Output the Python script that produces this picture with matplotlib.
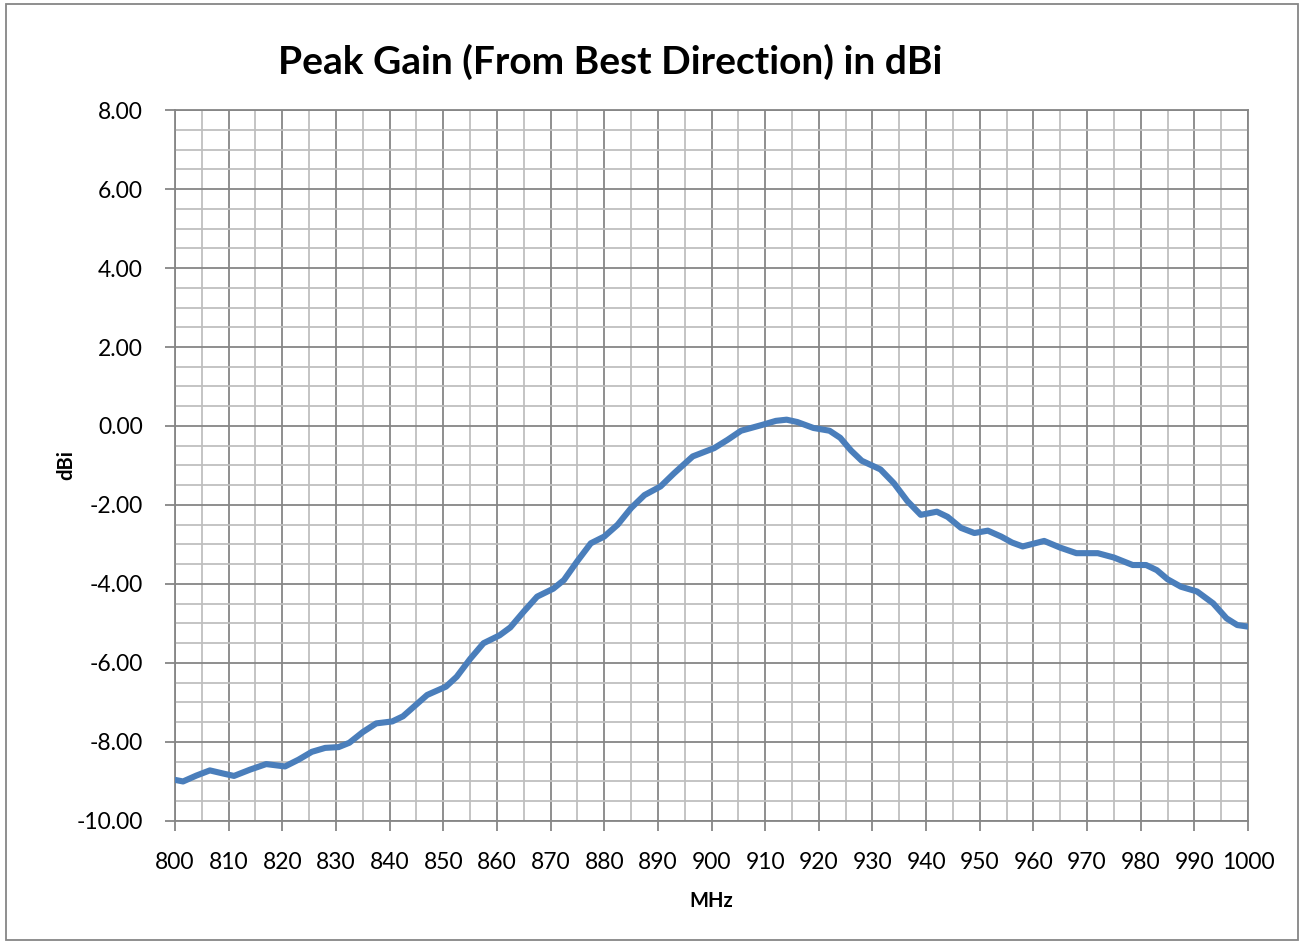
import matplotlib
matplotlib.use('Agg')
import matplotlib.pyplot as plt
from matplotlib.ticker import MultipleLocator, FormatStrFormatter
from matplotlib.patches import Rectangle

# data
freq_mhz = [800, 801.5, 804, 806.5, 809, 811, 814, 817, 820.5, 823, 825.5, 828,
            830.5, 832.5, 835, 837.5, 840.5, 842.5, 845, 847, 850.5, 852.5, 855,
            857.5, 860.5, 862.5, 865, 867.5, 870.5, 872.5, 875, 877.5, 880, 882.5,
            885, 887.5, 890.5, 893, 896.5, 900.5, 903, 905.5, 909.5, 912, 914, 916,
            919, 922, 924, 926, 928, 931.5, 934, 936.5, 939, 942, 944, 946.5, 949,
            951.5, 954, 956, 958, 962, 965, 968, 972, 975, 978.5, 981, 983, 985,
            987.5, 990.5, 993.5, 996, 998, 1000]
gain_dbi = [-8.96, -9.00, -8.85, -8.72, -8.80, -8.86, -8.70, -8.56, -8.62, -8.45,
            -8.25, -8.15, -8.13, -8.02, -7.75, -7.53, -7.48, -7.35, -7.05, -6.81,
            -6.60, -6.35, -5.90, -5.50, -5.30, -5.10, -4.70, -4.32, -4.12, -3.90,
            -3.42, -2.97, -2.80, -2.50, -2.08, -1.75, -1.53, -1.20, -0.77, -0.56,
            -0.35, -0.12, 0.03, 0.13, 0.16, 0.10, -0.05, -0.12, -0.30, -0.62,
            -0.88, -1.10, -1.45, -1.90, -2.25, -2.17, -2.30, -2.58, -2.71, -2.65,
            -2.80, -2.95, -3.05, -2.91, -3.08, -3.22, -3.22, -3.33, -3.52, -3.52,
            -3.65, -3.88, -4.07, -4.19, -4.49, -4.87, -5.04, -5.08]

plt.rcParams['font.family'] = ['Lato', 'DejaVu Sans']
plt.rcParams['axes.unicode_minus'] = False

fig = plt.figure(figsize=(13.03, 9.42), dpi=100)
ax = fig.add_axes([0.1343, 0.1285, 0.8235, 0.7547])

ax.plot(freq_mhz, gain_dbi, color='#4A7EBB', linewidth=4.4,
        solid_joinstyle='round', solid_capstyle='round', zorder=3)

ax.set_xlim(800, 1000)
ax.set_ylim(-10, 8)
ax.xaxis.set_major_locator(MultipleLocator(10))
ax.xaxis.set_minor_locator(MultipleLocator(5))
ax.yaxis.set_major_locator(MultipleLocator(2))
ax.yaxis.set_minor_locator(MultipleLocator(0.5))
ax.yaxis.set_major_formatter(FormatStrFormatter('%.2f'))

ax.grid(which='major', color='#868686', linewidth=1.3)
ax.grid(which='minor', color='#BFBFBF', linewidth=1.3)
ax.set_axisbelow(True)

ax.tick_params(which='major', direction='out', length=7, width=1.3,
               color='#868686', labelsize=16.5)
ax.tick_params(axis='x', which='major', pad=15)
ax.tick_params(axis='y', which='major', pad=16)
ax.tick_params(which='minor', length=0)
for s in ax.spines.values():
    s.set_color('#868686')
    s.set_linewidth(1.3)

ax.set_xlabel('MHz', fontsize=14.5, fontweight='bold', labelpad=13)
ax.set_ylabel('dBi', fontsize=14.5, fontweight='bold', labelpad=0)
fig.text(0.468, 0.934, 'Peak Gain (From Best Direction) in dBi',
         ha='center', va='center', fontsize=28, fontweight='bold')

# outer chart border
fig.patches.append(Rectangle((6 / 1303, 2 / 942), 1292 / 1303, 936 / 942,
                             transform=fig.transFigure, fill=False,
                             edgecolor='#868686', linewidth=1.3))

fig.savefig('out.png', dpi=100)
